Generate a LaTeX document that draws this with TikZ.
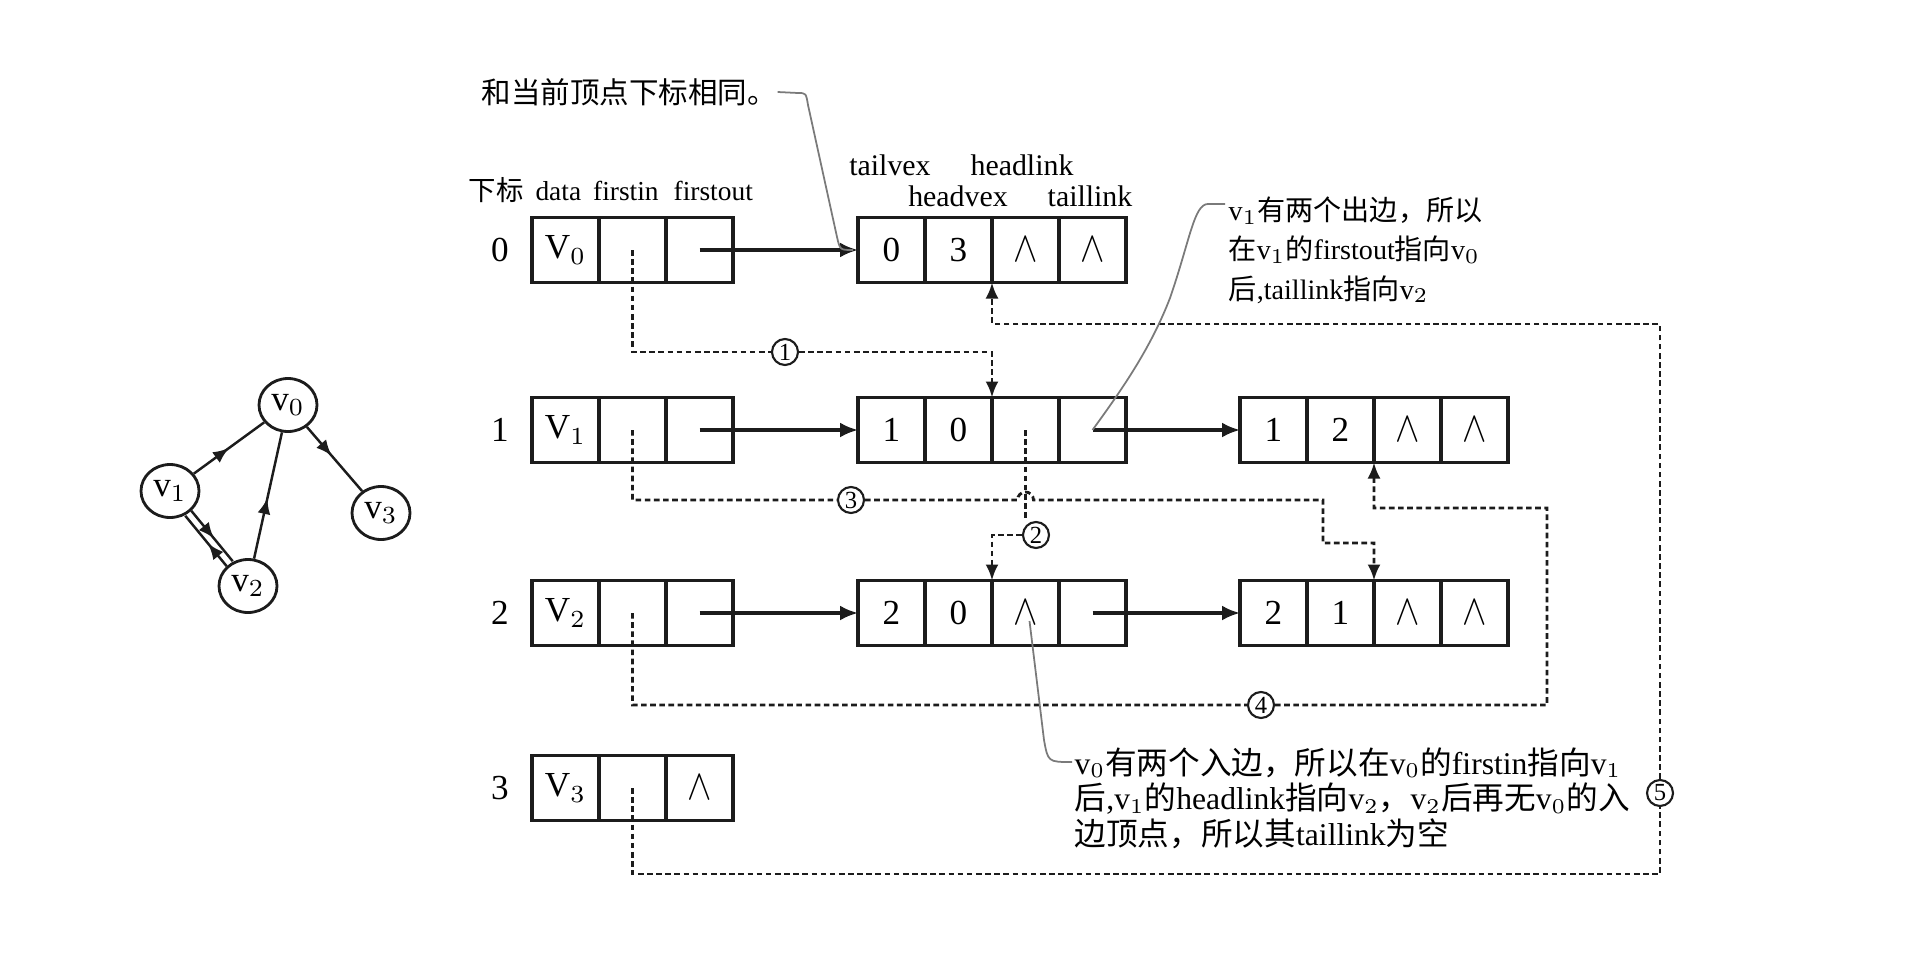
\documentclass[tikz,border=0pt]{standalone}
\usepackage{fontspec}
\setmainfont{Liberation Serif}
\newfontfamily\zhfont{Noto Sans CJK SC}
\newcommand{\zh}[1]{{\zhfont #1}}
\newcommand{\nulllink}{\scalebox{0.95}[1.12]{\fontsize{11}{11}\selectfont$\wedge$}}
\usepackage{xcolor}
\usetikzlibrary{positioning,shapes.geometric,decorations.markings,arrows.meta}
\definecolor{ink}{HTML}{1C1C1C}
\definecolor{lead}{HTML}{7A7A7A}

\begin{document}
\begin{tikzpicture}[
  cell/.style={draw=ink, line width=0.9pt, minimum width=0.67cm, minimum height=0.65cm,
               inner sep=0pt, outer sep=0pt, font=\fontsize{10}{12}\selectfont},
  vert/.style={ellipse, draw=ink, line width=0.8pt, minimum width=0.58cm, minimum height=0.53cm,
               inner sep=0pt, font=\fontsize{10}{12}\selectfont},
  field/.style={font=\fontsize{8.5}{10}\selectfont, inner sep=0pt},
  rowno/.style={font=\fontsize{10}{12}\selectfont},
  num/.style={circle, draw=ink, line width=0.6pt, fill=white, minimum size=0.26cm,
              inner sep=0pt, font=\fontsize{7}{8}\selectfont},
  arrow/.style={-{Latex[length=1.8mm,width=1.5mm]}, line width=0.9pt, color=ink},
  dotline/.style={-{Latex[length=1.6mm,width=1.3mm]}, line width=0.8pt, color=ink,
                  dash pattern=on 1.6pt off 1pt},
  leader/.style={line width=0.5pt, color=lead},
  note/.style={align=left, inner sep=0pt},
  edgeline/.style={line width=0.7pt, color=ink},
  midarrow/.style={postaction={decorate},
                   decoration={markings, mark=at position #1 with {\arrow{Latex[length=1.6mm,width=1.3mm]}}}},
  midarrow/.default=0.5
]
\useasboundingbox (0,0) rectangle (19.2,9.6);

% the graph
\node[vert] (g0) at (2.88,5.55) {v$_0$};
\node[vert] (g1) at (1.70,4.69) {v$_1$};
\node[vert] (g2) at (2.48,3.74) {v$_2$};
\node[vert] (g3) at (3.81,4.47) {v$_3$};
\draw[edgeline, midarrow=0.5] (g1) -- (g0);
\draw[edgeline, midarrow=0.45] (g0) -- (g3);
\draw[edgeline, midarrow=0.48] (g2) -- (g0);
\draw[edgeline, midarrow=0.55, transform canvas={shift={(0.03,0.025)}}] (g1) -- (g2);
\draw[edgeline, midarrow=0.45, transform canvas={shift={(-0.03,-0.025)}}] (g2) -- (g1);

% headings
\node[field, anchor=west, font=\fontsize{7.8}{10}\selectfont] (hvex) at (4.68,7.70)
  {\zh{下标}\hspace{1.2mm}data\hspace{1.2mm}firstin\hspace{1.5mm}firstout};
\node[field] (htv) at (8.90,7.95) {tailvex};
\node[field] (hhv) at (9.58,7.64) {headvex};
\node[field] (hhl) at (10.22,7.95) {headlink};
\node[field] (htl) at (10.90,7.64) {taillink};

% vertex table
\node[rowno] (r0) at (5.00,7.10) {0};
\node[cell] (v0data) at (5.655,7.10) {V$_0$};
\node[cell, right=0pt of v0data] (v0in) {};
\node[cell, right=0pt of v0in] (v0out) {};

\node[rowno] (r1) at (5.00,5.30) {1};
\node[cell] (v1data) at (5.655,5.30) {V$_1$};
\node[cell, right=0pt of v1data] (v1in) {};
\node[cell, right=0pt of v1in] (v1out) {};

\node[rowno] (r2) at (5.00,3.47) {2};
\node[cell] (v2data) at (5.655,3.47) {V$_2$};
\node[cell, right=0pt of v2data] (v2in) {};
\node[cell, right=0pt of v2in] (v2out) {};

\node[rowno] (r3) at (5.00,1.72) {3};
\node[cell] (v3data) at (5.655,1.72) {V$_3$};
\node[cell, right=0pt of v3data] (v3in) {};
\node[cell, right=0pt of v3in] (v3out) {\nulllink};

% arc nodes
\node[cell] (e03tv) at (8.915,7.10) {0};
\node[cell, right=0pt of e03tv] (e03hv) {3};
\node[cell, right=0pt of e03hv] (e03hl) {\nulllink};
\node[cell, right=0pt of e03hl] (e03tl) {\nulllink};

\node[cell] (e10tv) at (8.915,5.30) {1};
\node[cell, right=0pt of e10tv] (e10hv) {0};
\node[cell, right=0pt of e10hv] (e10hl) {};
\node[cell, right=0pt of e10hl] (e10tl) {};

\node[cell] (e12tv) at (12.735,5.30) {1};
\node[cell, right=0pt of e12tv] (e12hv) {2};
\node[cell, right=0pt of e12hv] (e12hl) {\nulllink};
\node[cell, right=0pt of e12hl] (e12tl) {\nulllink};

\node[cell] (e20tv) at (8.915,3.47) {2};
\node[cell, right=0pt of e20tv] (e20hv) {0};
\node[cell, right=0pt of e20hv] (e20hl) {\nulllink};
\node[cell, right=0pt of e20hl] (e20tl) {};

\node[cell] (e21tv) at (12.735,3.47) {2};
\node[cell, right=0pt of e21tv] (e21hv) {1};
\node[cell, right=0pt of e21hv] (e21hl) {\nulllink};
\node[cell, right=0pt of e21hl] (e21tl) {\nulllink};

% tail links
\draw[arrow] (v0out.center) -- (e03tv.west);
\draw[arrow] (v1out.center) -- (e10tv.west);
\draw[arrow] (e10tl.center) -- (e12tv.west);
\draw[arrow] (v2out.center) -- (e20tv.west);
\draw[arrow] (e20tl.center) -- (e21tv.west);

% head links, in order
\node[num] (n1) at (7.85,6.08) {1};
\node[num] (n2) at (10.36,4.25) {2};
\node[num] (n3) at (8.51,4.60) {3};
\node[num] (n4) at (12.61,2.55) {4};
\node[num] (n5) at (16.60,1.67) {5};

\draw[dotline] (v0in.center) |- (n1) -| (e10hl.north west);
\draw[dotline] (e10hl.center) -- (e10hl.center |- n2.north) (n2) -| (e20hl.north west);
\draw[dotline] (v1in.center) |- (n3) -- (10.175,4.60) arc[start angle=180, end angle=0, radius=0.08]
  -- (13.23,4.60) |- (13.74,4.17) -- (e21hl.north west);
\draw[dotline] (v2in.center) |- (n4) -- (15.47,2.55) |- (13.74,4.52) -- (e12hl.south west);
\draw[dotline] (v3in.center) |- (16.60,0.86) -- (n5) -- (16.60,6.36) -| (e03hl.south west);

% notes
\node[note, anchor=west, font=\fontsize{8.4}{10}\selectfont] (c1) at (4.81,8.68) {\zh{和当前顶点下标相同。}};
\coordinate (c1end) at (8.53,7.10);
\draw[leader] (c1.east) -- (7.98,8.67) .. controls (8.06,8.67) .. (8.08,8.55)
  -- (8.37,7.23) .. controls (8.40,7.10) .. (c1end);

\node[note, anchor=north west, font=\fontsize{8}{11.2}\selectfont] (c2) at (12.28,7.64)
  {v$_1$\zh{有两个出边，所以}\\
   \zh{在}v$_1$\zh{的}firstout\zh{指向}v$_0$\\
   \zh{后},taillink\zh{指向}v$_2$};
\coordinate (c2in) at (12.25,7.56);
\draw[leader] (c2in) -- (12.08,7.56) .. controls (11.94,7.56) and (11.90,7.2) .. (11.70,6.62)
  .. controls (11.50,6.10) and (11.20,5.68) .. (e10tl.center);

\node[note, anchor=north west, font=\fontsize{9}{10.1}\selectfont] (c3) at (10.74,2.13)
  {v$_0$\zh{有两个入边，所以在}v$_0$\zh{的}firstin\zh{指向}v$_1$\\
   \zh{后},v$_1$\zh{的}headlink\zh{指向}v$_2$\zh{，}v$_2$\zh{后再无}v$_0$\zh{的入}\\
   \zh{边顶点，所以其}taillink\zh{为空}};
\coordinate (c3in) at (10.72,1.98);
\draw[leader] ([shift={(0.04,-0.08)}]e20hl.center) -- (10.44,2.20) .. controls (10.48,1.98) .. (c3in);
\end{tikzpicture}
\end{document}
